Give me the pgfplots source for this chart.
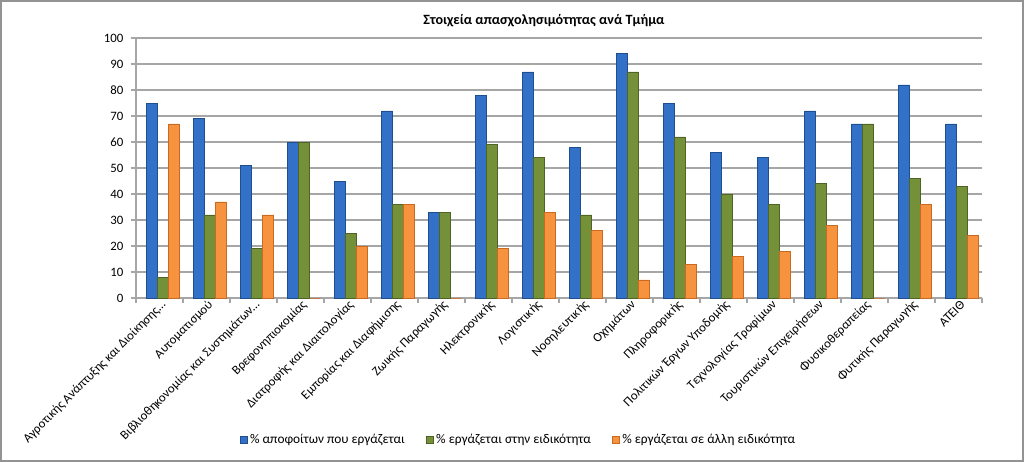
\documentclass[border=0pt]{standalone}
\usepackage{fontspec}
\setmainfont{Carlito}
\usepackage{pgfplots}
\pgfplotsset{compat=1.18}
\usepackage{pgfplotstable}
\definecolor{bluef}{HTML}{3371C8}
\definecolor{blued}{HTML}{1F4E8F}
\definecolor{greenf}{HTML}{74913A}
\definecolor{greend}{HTML}{4F6326}
\definecolor{orangef}{HTML}{F7923F}
\definecolor{oranged}{HTML}{C96A22}
\definecolor{gridc}{HTML}{A6A6A6}
\pgfplotstableread{
x a b c
0 75 8 67
1 69 32 37
2 51 19 32
3 60 60 0
4 45 25 20
5 72 36 36
6 33 33 0
7 78 59 19
8 87 54 33
9 58 32 26
10 94 87 7
11 75 62 13
12 56 40 16
13 54 36 18
14 72 44 28
15 67 67 0
16 82 46 36
17 67 43 24
}\data
\begin{document}
\begin{tikzpicture}
\useasboundingbox (0pt,0pt) rectangle (768pt,346.5pt);
\draw[color=gray!85, line width=1.6pt] (1pt,1pt) rectangle (767pt,345.5pt);
\node[font=\bfseries\fontsize{10.6}{12}\selectfont] at (408pt,331pt) {Στοιχεία απασχολησιμότητας ανά Τμήμα};
\begin{axis}[
  at={(102pt,123pt)}, anchor=south west,
  scale only axis, width=634.5pt, height=195pt,
  xmin=-0.5, xmax=17.5, ymin=0, ymax=100,
  ybar=0pt, bar width=8.25pt,
  axis x line*=bottom, axis y line*=left,
  axis line style={gridc, line width=0.8pt},
  ymajorgrids, grid style={gridc, line width=0.8pt},
  ytick={0,10,...,100},
  xtick={0,...,17},
  minor xtick={-0.5,0.5,...,17.5},
  tick align=outside,
  major tick length=4pt, minor tick length=4pt,
  xtick style={draw=none},
  minor x tick style={draw=gridc, line width=0.8pt},
  ytick style={draw=gridc, line width=0.8pt},
  tick label style={font=\fontsize{9.6}{11}\selectfont},
  /pgf/number format/assume math mode=true,
  yticklabel style={xshift=-2pt},
  xticklabels={Αγροτικής Ανάπτυξης και Διοίκησης…, Αυτοματισμού, Βιβλιοθηκονομίας και Συστημάτων…, Βρεφονηπιοκομίας, Διατροφής και Διαιτολογίας, Εμπορίας και Διαφήμισης, Ζωικής Παραγωγής, Ηλεκτρονικής, Λογιστικής, Νοσηλευτικής, Οχημάτων, Πληροφορικής, Πολιτικών Έργων Υποδομής, Τεχνολογίας Τροφίμων, Τουριστικών Επιχειρήσεων, Φυσικοθεραπείας, Φυτικής Παραγωγής, ΑΤΕΙΘ},
  xticklabel style={rotate=45, anchor=east, xshift=6pt, yshift=-2pt},
  legend style={at={(0.4527,-0.546)}, anchor=center, draw=none, fill=none,
    legend columns=-1, font=\fontsize{10}{12}\selectfont,
    /tikz/every even column/.append style={column sep=14pt}},
  legend image code/.code={\draw[#1, line width=0.3pt] (0pt,-2.6pt) rectangle (5.2pt,2.6pt);},
]
\addplot[bar shift=-5.6pt, draw=blued, line width=0.4pt, fill=bluef] table[x=x,y=a]{\data};
\addplot[bar shift=2.65pt, draw=greend, line width=0.4pt, fill=greenf] table[x=x,y=b]{\data};
\addplot[bar shift=10.9pt, draw=oranged, line width=0.4pt, fill=orangef] table[x=x,y=c]{\data};
\legend{\% αποφοίτων που εργάζεται, \% εργάζεται στην ειδικότητα, \% εργάζεται σε άλλη ειδικότητα}
\end{axis}
\end{tikzpicture}
\end{document}
